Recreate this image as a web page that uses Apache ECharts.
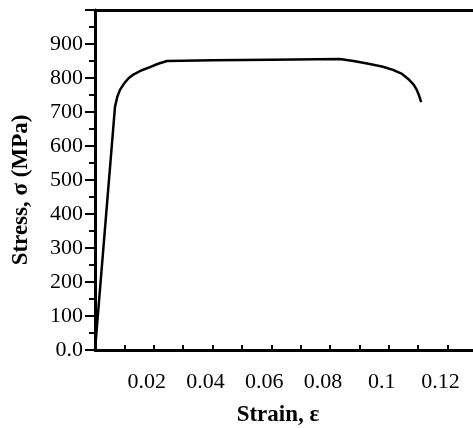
<!doctype html>
<html>
<head>
<meta charset="utf-8">
<title>Stress-strain</title>
<script src="https://cdn.jsdelivr.net/npm/echarts@6/dist/echarts.min.js"></script>
<style>
html, body { margin: 0; padding: 0; background: #fff; }
#chart { width: 473px; height: 428px; }
</style>
</head>
<body>
<div id="chart"></div>
<script>
// strain (-) and stress (MPa)
var strain = [0, 0.0068, 0.0076, 0.0085, 0.0100, 0.0115, 0.0129, 0.0157, 0.0187, 0.0215, 0.0245,
	0.04, 0.06, 0.0833, 0.0885, 0.0935, 0.0980, 0.1014, 0.1045, 0.1070, 0.1085, 0.1095, 0.1103, 0.111];
var stress = [0, 715, 745, 765, 785, 800, 809, 822, 832, 842, 850,
	852, 854, 856, 849, 841, 833, 824, 812, 794, 780, 765, 748, 729];
var xTicks = [0.02, 0.04, 0.06, 0.08, 0.1, 0.12];

var points = [];
for (var i = 0; i < strain.length; i++) {
	points.push([strain[i], stress[i]]);
}

var font = '"Liberation Serif", "DejaVu Serif", serif';
var chart = echarts.init(document.getElementById('chart'));
chart.setOption({
	animation: false,
	grid: { left: 95, right: -4, top: 10, bottom: 78, outerBoundsMode: 'none' },
	xAxis: [{
		type: 'value',
		min: 0,
		max: 0.13,
		interval: 0.02,
		name: 'Strain, ε',
		nameLocation: 'middle',
		nameGap: 54,
		nameTextStyle: { fontFamily: font, fontSize: 23, fontWeight: 'bold', color: '#000', padding: [0, 16, 0, 0] },
		axisLine: { show: true, lineStyle: { color: '#000', width: 3 } },
		axisTick: { show: true, inside: true, length: 5, lineStyle: { color: '#000', width: 2 } },
		minorTick: { show: true, splitNumber: 2, length: 5, lineStyle: { color: '#000', width: 2 } },
		axisLabel: {
			margin: 21,
			fontFamily: font,
			fontSize: 22,
			color: '#000',
			padding: [0, 14, 0, 0],
			formatter: function (v) {
				var r = +v.toFixed(2);
				return xTicks.indexOf(r) < 0 ? '' : String(r);
			}
		},
		splitLine: { show: false }
	}, {
		type: 'value',
		position: 'top',
		min: 0,
		max: 0.13,
		axisLine: { show: true, lineStyle: { color: '#000', width: 3 } },
		axisTick: { show: false },
		axisLabel: { show: false },
		splitLine: { show: false }
	}],
	yAxis: {
		type: 'value',
		min: 0,
		max: 1000,
		interval: 100,
		name: 'Stress, σ (MPa)',
		nameLocation: 'middle',
		nameGap: 62,
		nameTextStyle: { fontFamily: font, fontSize: 23, fontWeight: 'bold', color: '#000', padding: [0, 20, 0, 0] },
		axisLine: { show: true, lineStyle: { color: '#000', width: 3 } },
		axisTick: { show: true, inside: false, length: 10, lineStyle: { color: '#000', width: 2 } },
		minorTick: { show: true, splitNumber: 2, length: 6, lineStyle: { color: '#000', width: 2 } },
		axisLabel: {
			margin: 12,
			fontFamily: font,
			fontSize: 22,
			color: '#000',
			formatter: function (v) {
				if (v === 0) return '0.0';
				if (v === 1000) return '';
				return String(v);
			}
		},
		splitLine: { show: false }
	},
	series: [{
		type: 'line',
		xAxisIndex: 0,
		data: points,
		showSymbol: false,
		lineStyle: { color: '#000', width: 2.5, join: 'round' }
	}]
});
</script>
</body>
</html>
